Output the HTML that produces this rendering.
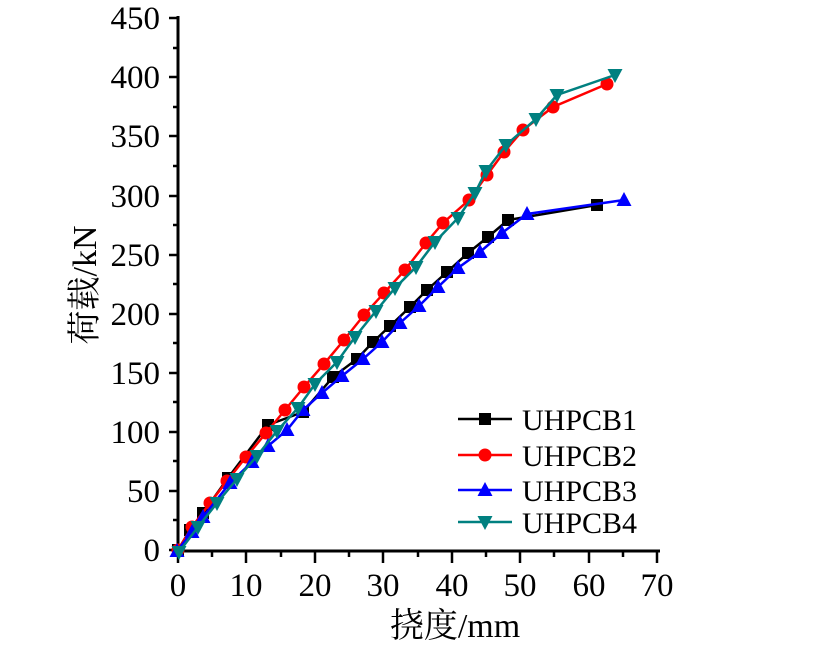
<!DOCTYPE html>
<html><head><meta charset="utf-8"><style>body{margin:0;background:#fff}</style></head><body>
<svg width="819" height="655" xmlns="http://www.w3.org/2000/svg" font-family="'Liberation Serif','Noto Serif CJK SC',serif">
<g stroke="#000" stroke-width="3" fill="none">
<line x1="178" y1="16" x2="178" y2="551.5"/>
<line x1="176.5" y1="551" x2="660" y2="551"/>
</g>
<g stroke="#000" stroke-width="2.5">
<line x1="178" y1="550" x2="169" y2="550"/><line x1="178" y1="491" x2="169" y2="491"/><line x1="178" y1="432" x2="169" y2="432"/><line x1="178" y1="373" x2="169" y2="373"/><line x1="178" y1="314" x2="169" y2="314"/><line x1="178" y1="255" x2="169" y2="255"/><line x1="178" y1="196" x2="169" y2="196"/><line x1="178" y1="136" x2="169" y2="136"/><line x1="178" y1="77" x2="169" y2="77"/><line x1="178" y1="18" x2="169" y2="18"/>
<line x1="178" y1="520" x2="173" y2="520"/><line x1="178" y1="461" x2="173" y2="461"/><line x1="178" y1="402" x2="173" y2="402"/><line x1="178" y1="343" x2="173" y2="343"/><line x1="178" y1="284" x2="173" y2="284"/><line x1="178" y1="225" x2="173" y2="225"/><line x1="178" y1="166" x2="173" y2="166"/><line x1="178" y1="107" x2="173" y2="107"/><line x1="178" y1="48" x2="173" y2="48"/>
<line x1="178" y1="551" x2="178" y2="563"/><line x1="246" y1="551" x2="246" y2="563"/><line x1="315" y1="551" x2="315" y2="563"/><line x1="383" y1="551" x2="383" y2="563"/><line x1="452" y1="551" x2="452" y2="563"/><line x1="520" y1="551" x2="520" y2="563"/><line x1="589" y1="551" x2="589" y2="563"/><line x1="657" y1="551" x2="657" y2="563"/>
<line x1="212" y1="551" x2="212" y2="557"/><line x1="281" y1="551" x2="281" y2="557"/><line x1="349" y1="551" x2="349" y2="557"/><line x1="418" y1="551" x2="418" y2="557"/><line x1="486" y1="551" x2="486" y2="557"/><line x1="554" y1="551" x2="554" y2="557"/><line x1="623" y1="551" x2="623" y2="557"/>
</g>
<g font-size="33" text-anchor="end" fill="#000">
<text x="160" y="561">0</text><text x="160" y="502">50</text><text x="160" y="443">100</text><text x="160" y="384">150</text><text x="160" y="325">200</text><text x="160" y="266">250</text><text x="160" y="207">300</text><text x="160" y="147">350</text><text x="160" y="88">400</text><text x="160" y="29">450</text>
</g>
<g font-size="33" text-anchor="middle" fill="#000">
<text x="178" y="596">0</text><text x="246" y="596">10</text><text x="315" y="596">20</text><text x="383" y="596">30</text><text x="452" y="596">40</text><text x="520" y="596">50</text><text x="589" y="596">60</text><text x="657" y="596">70</text>
<text x="455" y="637" font-size="34">挠度/mm</text>
<text transform="translate(96,285) rotate(-90)" font-size="34">荷载/kN</text>
</g>
<defs>
<rect id="sq" x="-6" y="-6" width="12" height="12" fill="#000"/>
<circle id="ci" r="6.5" fill="#f00"/>
<polygon id="tu" points="0,-8 7.5,6 -7.5,6" fill="#00f"/>
<polygon id="td" points="0,8 7.5,-6 -7.5,-6" fill="#008080"/>
</defs>
<polyline fill="none" stroke="#000" stroke-width="2.5" points="178,550 190,530 203,513 228,478 268,425 303,412 333,377 357,359 373,342 390,326 410,307 427,290 447,272 468,253 488,237 508,220 597,205"/>
<g><use href="#sq" x="178" y="550"/><use href="#sq" x="190" y="530"/><use href="#sq" x="203" y="513"/><use href="#sq" x="228" y="478"/><use href="#sq" x="268" y="425"/><use href="#sq" x="303" y="412"/><use href="#sq" x="333" y="377"/><use href="#sq" x="357" y="359"/><use href="#sq" x="373" y="342"/><use href="#sq" x="390" y="326"/><use href="#sq" x="410" y="307"/><use href="#sq" x="427" y="290"/><use href="#sq" x="447" y="272"/><use href="#sq" x="468" y="253"/><use href="#sq" x="488" y="237"/><use href="#sq" x="508" y="220"/><use href="#sq" x="597" y="205"/></g>
<polyline fill="none" stroke="#f00" stroke-width="2.5" points="178,550 192,527 210,503 227,481 246,457 266,433 285,410 304,387 324,364 344,340 364,315 384,293 405,270 426,243 443,223 469,200 487,175 504,152 523,130 553,107 607,84"/>
<g><use href="#ci" x="178" y="550"/><use href="#ci" x="192" y="527"/><use href="#ci" x="210" y="503"/><use href="#ci" x="227" y="481"/><use href="#ci" x="246" y="457"/><use href="#ci" x="266" y="433"/><use href="#ci" x="285" y="410"/><use href="#ci" x="304" y="387"/><use href="#ci" x="324" y="364"/><use href="#ci" x="344" y="340"/><use href="#ci" x="364" y="315"/><use href="#ci" x="384" y="293"/><use href="#ci" x="405" y="270"/><use href="#ci" x="426" y="243"/><use href="#ci" x="443" y="223"/><use href="#ci" x="469" y="200"/><use href="#ci" x="487" y="175"/><use href="#ci" x="504" y="152"/><use href="#ci" x="523" y="130"/><use href="#ci" x="553" y="107"/><use href="#ci" x="607" y="84"/></g>
<polyline fill="none" stroke="#00f" stroke-width="2.5" points="177,551 192,532 203,517 230,483 252,462 268,446 287,430 303,410 322,393 342,376 363,359 382,342 400,323 419,306 438,287 458,268 480,252 502,233 527,214 624,200"/>
<g><use href="#tu" x="177" y="551"/><use href="#tu" x="192" y="532"/><use href="#tu" x="203" y="517"/><use href="#tu" x="230" y="483"/><use href="#tu" x="252" y="462"/><use href="#tu" x="268" y="446"/><use href="#tu" x="287" y="430"/><use href="#tu" x="303" y="410"/><use href="#tu" x="322" y="393"/><use href="#tu" x="342" y="376"/><use href="#tu" x="363" y="359"/><use href="#tu" x="382" y="342"/><use href="#tu" x="400" y="323"/><use href="#tu" x="419" y="306"/><use href="#tu" x="438" y="287"/><use href="#tu" x="458" y="268"/><use href="#tu" x="480" y="252"/><use href="#tu" x="502" y="233"/><use href="#tu" x="527" y="214"/><use href="#tu" x="624" y="200"/></g>
<polyline fill="none" stroke="#008080" stroke-width="2.5" points="179,552 198,527 217,503 237,479 257,456 277,431 298,408 315,384 337,362 355,337 376,311 395,288 416,267 435,242 458,218 475,193 486,171 506,145 536,119 557,95 615,75"/>
<g><use href="#td" x="179" y="552"/><use href="#td" x="198" y="527"/><use href="#td" x="217" y="503"/><use href="#td" x="237" y="479"/><use href="#td" x="257" y="456"/><use href="#td" x="277" y="431"/><use href="#td" x="298" y="408"/><use href="#td" x="315" y="384"/><use href="#td" x="337" y="362"/><use href="#td" x="355" y="337"/><use href="#td" x="376" y="311"/><use href="#td" x="395" y="288"/><use href="#td" x="416" y="267"/><use href="#td" x="435" y="242"/><use href="#td" x="458" y="218"/><use href="#td" x="475" y="193"/><use href="#td" x="486" y="171"/><use href="#td" x="506" y="145"/><use href="#td" x="536" y="119"/><use href="#td" x="557" y="95"/><use href="#td" x="615" y="75"/></g>
<g stroke-width="2.5">
<line x1="458" y1="419" x2="512" y2="419" stroke="#000"/><use href="#sq" x="485" y="419"/>
<line x1="458" y1="455" x2="512" y2="455" stroke="#f00"/><use href="#ci" x="485" y="455"/>
<line x1="458" y1="490" x2="512" y2="490" stroke="#00f"/><use href="#tu" x="485" y="490"/>
<line x1="458" y1="522" x2="512" y2="522" stroke="#008080"/><use href="#td" x="485" y="522"/>
</g>
<g font-size="30" fill="#000">
<text x="522" y="430">UHPCB1</text><text x="522" y="466">UHPCB2</text><text x="522" y="501">UHPCB3</text><text x="522" y="533">UHPCB4</text>
</g>
</svg>
</body></html>
